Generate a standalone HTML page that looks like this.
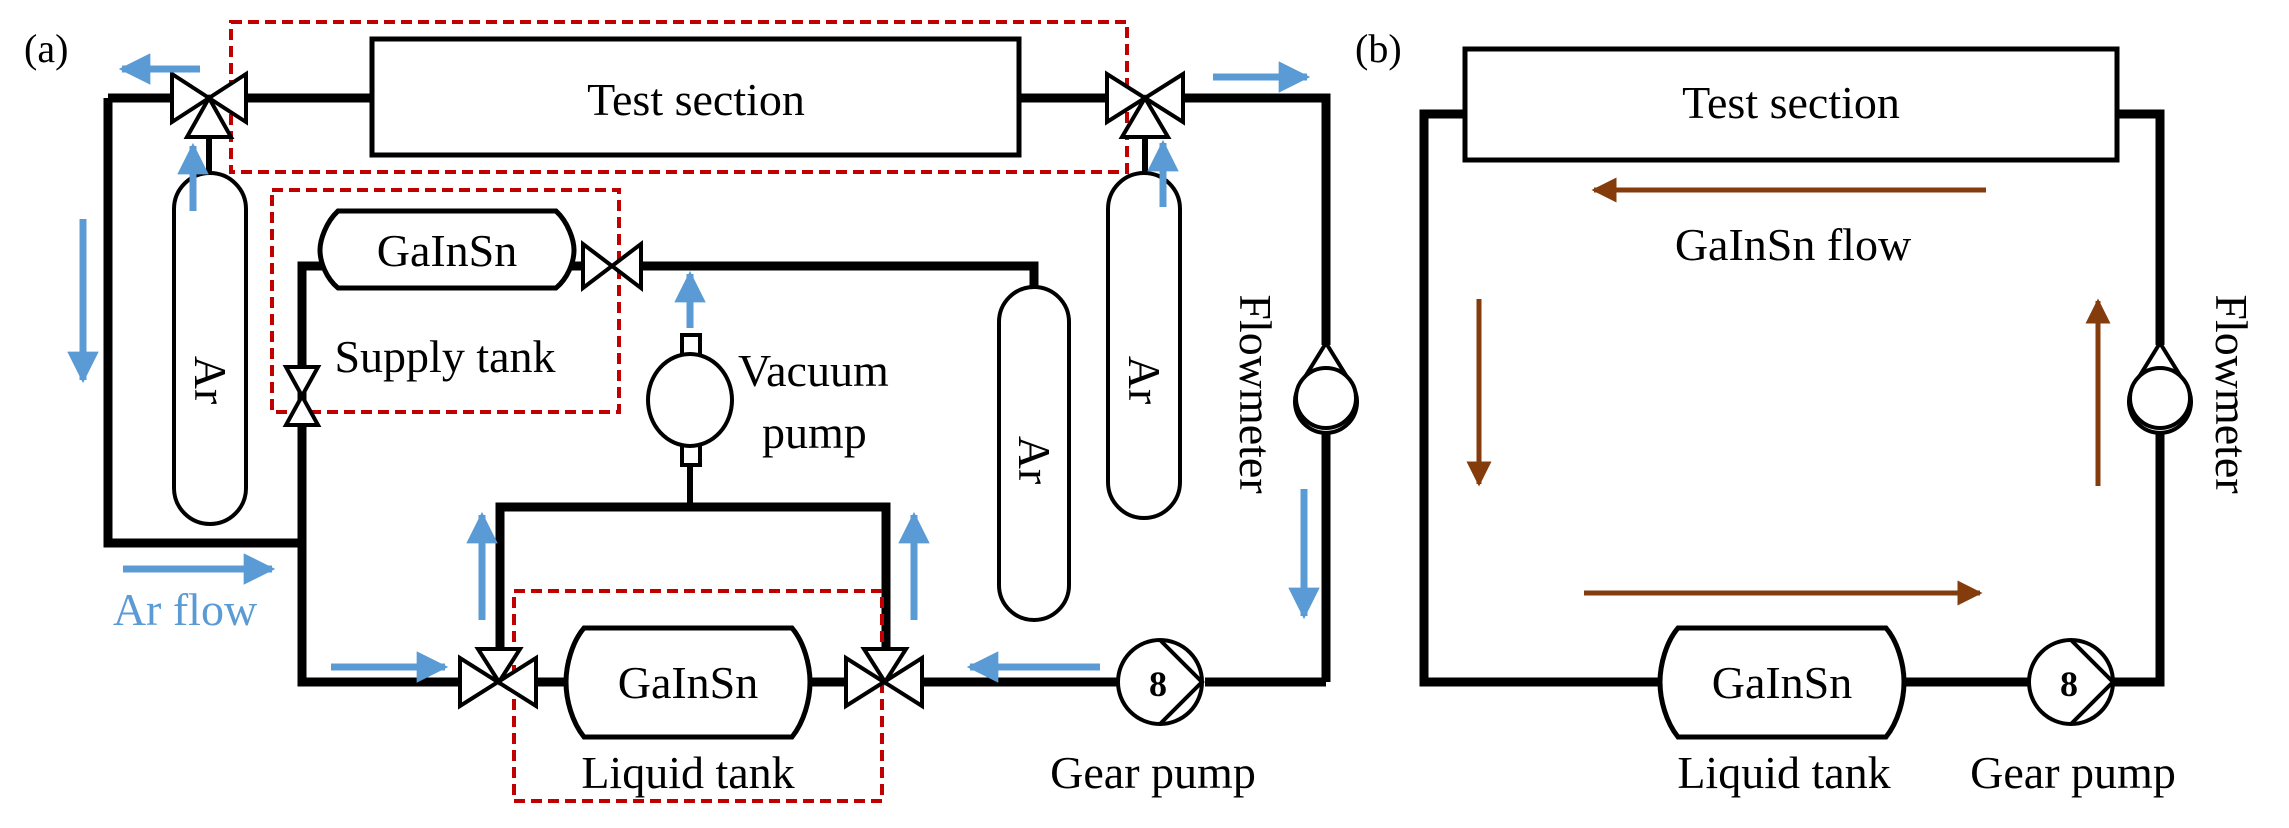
<!DOCTYPE html>
<html><head><meta charset="utf-8"><style>
html,body{margin:0;padding:0;background:#fff;}
svg{display:block;}
text{font-family:"Liberation Serif",serif;}
</style></head><body>
<svg width="2289" height="828" viewBox="0 0 2289 828" xmlns="http://www.w3.org/2000/svg">
<defs>
<marker id="ab" viewBox="0 0 10 10" refX="9" refY="5" markerWidth="4.5" markerHeight="4.5" orient="auto"><path d="M0,0L10,5L0,10z" fill="#5b9bd5"/></marker>
<marker id="ar" viewBox="0 0 10 10" refX="9" refY="5" markerWidth="5" markerHeight="5" orient="auto"><path d="M0,0L10,5L0,10z" fill="#843c0c"/></marker>
</defs>
<rect width="2289" height="828" fill="#fff"/>
<!-- ===== Panel (a) ===== -->
<text x="24" y="62" font-size="40">(a)</text>
<g fill="none" stroke="#000" stroke-width="9">
<polyline points="108,98 108,543 302,543"/>
<line x1="108" y1="98" x2="172" y2="98"/>
<line x1="238" y1="98" x2="372" y2="98"/>
<line x1="1019" y1="98" x2="1108" y2="98"/>
<polyline points="1183,98 1326,98 1326,345"/>
<line x1="1326" y1="427" x2="1326" y2="682"/>
<line x1="1205" y1="682" x2="1326" y2="682"/>
<line x1="920" y1="682" x2="1117" y2="682"/>
<line x1="810" y1="682" x2="844" y2="682"/>
<line x1="534" y1="682" x2="566" y2="682"/>
<polyline points="458,682 302,682 302,425"/>
<line x1="302" y1="367" x2="302" y2="543"/>
<polyline points="500,665 500,507 886,507 886,665"/>
<polyline points="302,367 302,266 322,266"/>
<line x1="572" y1="266" x2="583" y2="266"/>
<polyline points="640,266 1034,266 1034,287"/>
</g>
<g fill="none" stroke="#000" stroke-width="6">
<line x1="690" y1="460" x2="690" y2="507"/>
<line x1="209" y1="135" x2="209" y2="175"/>
<line x1="1145" y1="135" x2="1145" y2="175"/>
</g>
<g fill="none" stroke="#c00000" stroke-width="4" stroke-dasharray="11,6">
<rect x="231" y="22" width="896" height="150"/>
<rect x="272" y="190" width="347" height="222"/>
<rect x="514" y="591" width="368" height="210"/>
</g>
<rect x="372" y="39" width="647" height="116" fill="#fff" stroke="#000" stroke-width="5"/>
<text x="696" y="115" font-size="46" text-anchor="middle">Test section</text>
<g fill="#fff" stroke="#000" stroke-width="4">
<rect x="174" y="173" width="72" height="351" rx="36"/>
<rect x="1108" y="173" width="72" height="345" rx="36"/>
<rect x="999" y="287" width="70" height="333" rx="35"/>
</g>
<g font-size="46">
<text transform="translate(195,380) rotate(90)" text-anchor="middle">Ar</text>
<text transform="translate(1129,380) rotate(90)" text-anchor="middle">Ar</text>
<text transform="translate(1019,460) rotate(90)" text-anchor="middle">Ar</text>
<text transform="translate(1240,394) rotate(90)" text-anchor="middle">Flowmeter</text>
</g>
<g fill="#fff" stroke="#000" stroke-width="4" stroke-linejoin="miter">
<polygon points="172,74 172,122 209,98"/><polygon points="246,74 246,122 209,98"/><polygon points="209,98 187,137 231,137"/>
<polygon points="1107,74 1107,122 1145,98"/><polygon points="1183,74 1183,122 1145,98"/><polygon points="1145,98 1122,137 1168,137"/>
<polygon points="583,244 583,288 612,266"/><polygon points="641,244 641,288 612,266"/>
<polygon points="286,367 318,367 302,396"/><polygon points="286,425 318,425 302,396"/>
<polygon points="460,658 460,706 498,682"/><polygon points="536,658 536,706 498,682"/><polygon points="478,649 520,649 499,682"/>
<polygon points="846,658 846,706 884,682"/><polygon points="922,658 922,706 884,682"/><polygon points="864,649 906,649 885,682"/>
</g>
<path d="M338,211 H556 C568,222 574,240 574,250 C574,262 568,278 556,288 H338 C326,278 320,262 320,250 C320,240 326,222 338,211Z" fill="#fff" stroke="#000" stroke-width="5"/>
<text x="447" y="266" font-size="46" text-anchor="middle">GaInSn</text>
<text x="445" y="372" font-size="46" text-anchor="middle">Supply tank</text>
<g fill="#fff" stroke="#000" stroke-width="4">
<rect x="682" y="335" width="18" height="20"/>
<rect x="682" y="445" width="18" height="20"/>
<ellipse cx="690" cy="400" rx="42" ry="46"/>
</g>
<text x="738" y="386" font-size="46">Vacuum</text>
<text x="762" y="448" font-size="46">pump</text>
<path d="M584,628 H792 C804,642 810,665 810,682 C810,700 804,722 792,737 H584 C572,722 566,700 566,682 C566,665 572,642 584,628Z" fill="#fff" stroke="#000" stroke-width="5"/>
<text x="688" y="698" font-size="46" text-anchor="middle">GaInSn</text>
<text x="688" y="788" font-size="46" text-anchor="middle">Liquid tank</text>
<g fill="none" stroke="#000" stroke-width="4">
<circle cx="1160" cy="682" r="42" fill="#fff"/>
<polyline points="1160,640 1202,682 1160,724"/>
</g>
<text x="1158" y="696" font-size="36" font-weight="bold" font-family="Liberation Sans" text-anchor="middle">8</text>
<text x="1153" y="788" font-size="46" text-anchor="middle">Gear pump</text>
<path d="M1326,343 L1352,385 A31,31 0 1 1 1300,385 Z" fill="#fff" stroke="#000" stroke-width="4"/>
<circle cx="1326" cy="398" r="30" fill="#fff" stroke="#000" stroke-width="4"/>
<g stroke="#5b9bd5" stroke-width="7" marker-end="url(#ab)" fill="none">
<line x1="200" y1="69" x2="122" y2="69"/>
<line x1="83" y1="219" x2="83" y2="380"/>
<line x1="193" y1="211" x2="193" y2="146"/>
<line x1="123" y1="569" x2="272" y2="569"/>
<line x1="331" y1="667" x2="445" y2="667"/>
<line x1="482" y1="620" x2="482" y2="515"/>
<line x1="914" y1="620" x2="914" y2="515"/>
<line x1="1100" y1="667" x2="970" y2="667"/>
<line x1="690" y1="328" x2="690" y2="274"/>
<line x1="1163" y1="207" x2="1163" y2="143"/>
<line x1="1213" y1="77" x2="1307" y2="77"/>
<line x1="1304" y1="489" x2="1304" y2="616"/>
</g>
<text x="185" y="625" font-size="46" fill="#5b9bd5" text-anchor="middle">Ar flow</text>

<!-- ===== Panel (b) ===== -->
<text x="1355" y="62" font-size="40">(b)</text>
<g fill="none" stroke="#000" stroke-width="9">
<polyline points="1465,114 1424,114 1424,682 1664,682"/>
<line x1="1904" y1="682" x2="2030" y2="682"/>
<polyline points="2115,114 2160,114 2160,345"/>
<polyline points="2160,427 2160,682 2112,682"/>
</g>
<rect x="1465" y="49" width="652" height="111" fill="#fff" stroke="#000" stroke-width="5"/>
<text x="1791" y="118" font-size="46" text-anchor="middle">Test section</text>
<path d="M1678,628 H1886 C1898,642 1904,665 1904,682 C1904,700 1898,722 1886,737 H1678 C1666,722 1660,700 1660,682 C1660,665 1666,642 1678,628Z" fill="#fff" stroke="#000" stroke-width="5"/>
<text x="1782" y="698" font-size="46" text-anchor="middle">GaInSn</text>
<text x="1784" y="788" font-size="46" text-anchor="middle">Liquid tank</text>
<g fill="none" stroke="#000" stroke-width="4">
<circle cx="2071" cy="682" r="42" fill="#fff"/>
<polyline points="2071,640 2113,682 2071,724"/>
</g>
<text x="2069" y="696" font-size="36" font-weight="bold" font-family="Liberation Sans" text-anchor="middle">8</text>
<text x="2073" y="788" font-size="46" text-anchor="middle">Gear pump</text>
<path d="M2160,343 L2186,385 A31,31 0 1 1 2134,385 Z" fill="#fff" stroke="#000" stroke-width="4"/>
<circle cx="2160" cy="398" r="30" fill="#fff" stroke="#000" stroke-width="4"/>
<text transform="translate(2216,394) rotate(90)" font-size="46" text-anchor="middle">Flowmeter</text>
<g stroke="#843c0c" stroke-width="5" marker-end="url(#ar)" fill="none">
<line x1="1986" y1="190" x2="1594" y2="190"/>
<line x1="1479" y1="299" x2="1479" y2="484"/>
<line x1="2098" y1="486" x2="2098" y2="301"/>
<line x1="1584" y1="593" x2="1980" y2="593"/>
</g>
<text x="1793" y="260" font-size="46" text-anchor="middle">GaInSn flow</text>
</svg>
</body></html>
